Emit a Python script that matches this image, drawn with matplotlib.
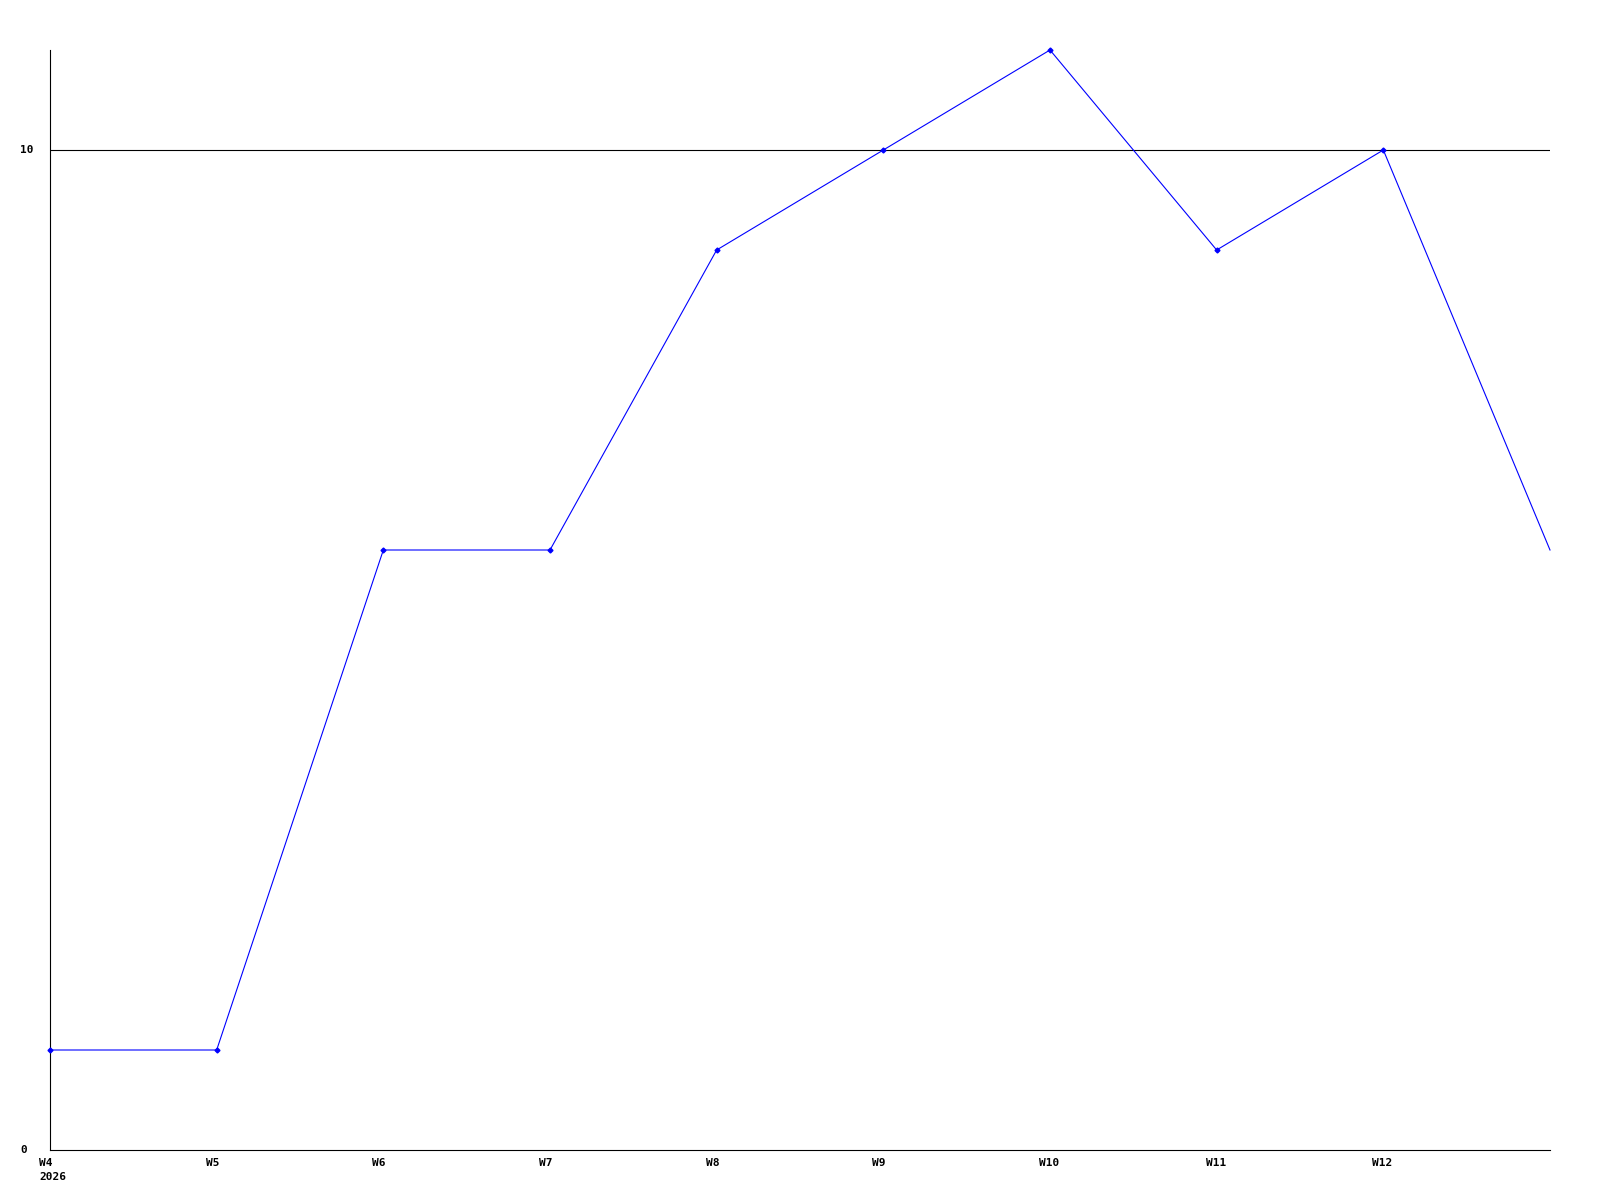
import matplotlib.pyplot as plt
import matplotlib.transforms as mtransforms

# weeks and values
weeks = ['W4\n2026', 'W5', 'W6', 'W7', 'W8', 'W9', 'W10', 'W11', 'W12', '']
values = [1, 1, 6, 6, 9, 10, 11, 9, 10, 6]
ytick_vals = [0, 10]
ytick_labels = ['0', '10']


def main():
    fig = plt.figure(figsize=(16, 12), dpi=100)
    ax = fig.add_axes([50/1600, 50/1200, 1500/1600, 1100/1200])

    x = list(range(len(values)))
    ax.plot(x, values, color='#0000ff', linewidth=0.8, zorder=3, clip_on=False)
    # markers on every point but the last one
    ax.plot(x[:-1], values[:-1], linestyle='none', marker='D', markersize=2.5,
            color='#0000ff', zorder=4, clip_on=False)

    ax.set_xlim(0, len(values) - 1)
    ax.set_ylim(0, 11)

    # only line at 10
    ax.axhline(10, color='black', linewidth=0.8, zorder=1)

    for s in ['top', 'right']:
        ax.spines[s].set_visible(False)
    for s in ['left', 'bottom']:
        ax.spines[s].set_linewidth(0.8)
        ax.spines[s].set_color('black')

    fnt = dict(fontfamily='DejaVu Sans Mono', fontweight='bold', fontsize=8)

    # x labels start a bit left of their tick
    ax.set_xticks(x)
    ax.set_xticklabels([])
    trans = mtransforms.offset_copy(ax.get_xaxis_transform(), fig=fig,
                                    x=-11, y=-8, units='dots')
    for xi, lab in zip(x, weeks):
        ax.text(xi, 0, lab, transform=trans, ha='left', va='top',
                linespacing=1.45, **fnt)

    # y labels are left aligned near the figure edge
    ax.set_yticks(ytick_vals)
    ax.set_yticklabels([])
    ytrans = mtransforms.blended_transform_factory(fig.transFigure, ax.transData)
    for yv, lab in zip(ytick_vals, ytick_labels):
        ax.text(20/1600, yv, lab, transform=ytrans, ha='left', va='center', **fnt)

    ax.tick_params(axis='both', length=0)

    plt.savefig('out.png', dpi=100, facecolor='white')


main()
